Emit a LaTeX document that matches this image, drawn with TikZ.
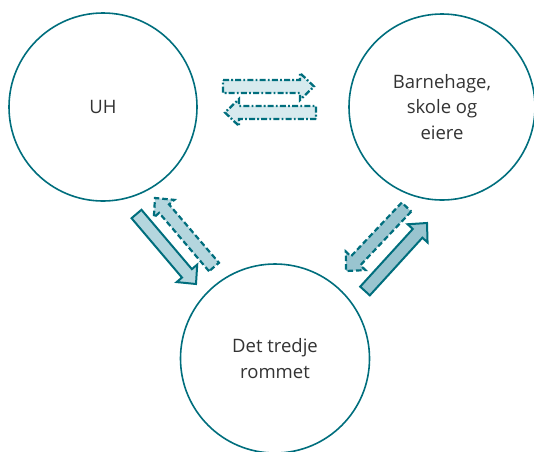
\documentclass[tikz,border=0pt]{standalone}
\usepackage{fontspec}
\setmainfont{Open Sans}
\usetikzlibrary{calc}

\definecolor{teal}{RGB}{0,110,125}
\definecolor{textgray}{RGB}{51,51,51}
\definecolor{palefill}{RGB}{215,234,238}
\definecolor{lightfill}{RGB}{180,214,222}
\definecolor{midfill}{RGB}{153,196,207}

\tikzset{
  hub/.style={circle, draw=teal, line width=1.6pt, inner sep=0pt,
    text=textgray, align=center,
    font=\fontsize{18.5}{25.5}\selectfont},
  solidarrow/.style={draw=teal, line width=2pt, line join=miter},
  dashedarrow/.style={draw=teal, line width=2.2pt, line join=miter,
    dash pattern=on 5.5pt off 3pt},
  dashdotarrow/.style={draw=teal, line width=2.3pt, line join=miter,
    dash pattern=on 6pt off 2.2pt on 1.8pt off 2.2pt},
}

% block arrow from #2 to #3 with the given style #1
% body half width 6.5, head half width 13.5, head length 14
\newcommand{\blockarrow}[3]{%
  \coordinate (neck) at ($(#3)!14pt!(#2)$);
  \path[#1]
    ($(#2)!6.5pt!90:(#3)$) --
    ($(neck)!6.5pt!-90:(#2)$) --
    ($(neck)!13.5pt!-90:(#2)$) --
    (#3) --
    ($(neck)!13.5pt!90:(#2)$) --
    ($(neck)!6.5pt!90:(#2)$) --
    ($(#2)!6.5pt!-90:(#3)$) -- cycle;
}

\begin{document}
\begin{tikzpicture}[x=1pt, y=-1pt]
  \useasboundingbox (0,0) rectangle (534,451);

  % the three spaces
  \node[hub, minimum size=188pt] (uh) at (103,107) {UH};
  \node[hub, minimum size=186pt] (bh) at (442,107) {Barnehage,\\skole og\\eiere};
  \node[hub, minimum size=189pt] (tr) at (275,358.5) {Det tredje\\rommet};

  % arrow end points
  \coordinate (t1s) at (223,86.5);
  \coordinate (t1e) at (314,86.5);
  \coordinate (t2s) at (316,112.5);
  \coordinate (t2e) at (225,112.5);

  \coordinate (l1s) at (136.5,214);
  \coordinate (l1e) at (196,284);
  \coordinate (l2s) at (214,267);
  \coordinate (l2e) at (155,198);

  \coordinate (r1s) at (365,291);
  \coordinate (r1e) at (427,223);
  \coordinate (r2s) at (406.5,207);
  \coordinate (r2e) at (346,271);

  % UH <-> Barnehage
  \blockarrow{dashdotarrow, fill=palefill}{t1s}{t1e}
  \blockarrow{dashdotarrow, fill=palefill}{t2s}{t2e}

  % UH <-> Det tredje rommet
  \blockarrow{solidarrow, fill=lightfill}{l1s}{l1e}
  \blockarrow{dashedarrow, fill=lightfill}{l2s}{l2e}

  % Det tredje rommet <-> Barnehage
  \blockarrow{solidarrow, fill=midfill}{r1s}{r1e}
  \blockarrow{dashedarrow, fill=midfill}{r2s}{r2e}
\end{tikzpicture}
\end{document}
